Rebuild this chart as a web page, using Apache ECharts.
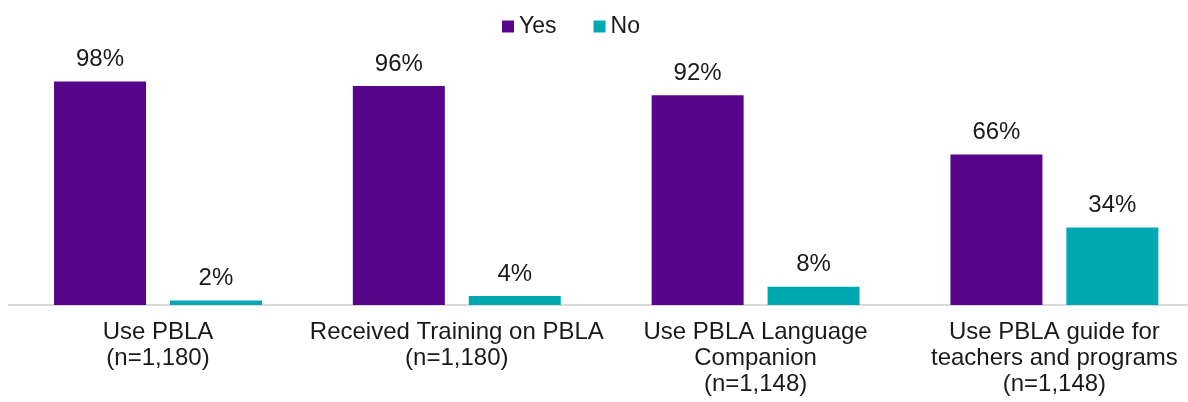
<!DOCTYPE html>
<html>
<head>
<meta charset="utf-8">
<script src="https://cdn.jsdelivr.net/npm/echarts@6/dist/echarts.min.js"></script>
<style>
html,body{margin:0;padding:0;background:#fff;overflow:hidden;}
#chart{width:1188px;height:402px;}
</style>
</head>
<body>
<div id="chart"></div>
<script>
const categories = [
  "Use PBLA\n(n=1,180)",
  "Received Training on PBLA\n(n=1,180)",
  "Use PBLA Language\nCompanion\n(n=1,148)",
  "Use PBLA guide for\nteachers and programs\n(n=1,148)"
];
const seriesNames = ["Yes", "No"];
const yesValues = [98, 96, 92, 66];
const noValues = [2, 4, 8, 34];

const FONT = "'Liberation Sans', Arial, sans-serif";
const chart = echarts.init(document.getElementById('chart'), null, {renderer: 'canvas'});
const labelStyle = {
  show: true,
  position: 'top',
  distance: 10,
  formatter: '{c}%',
  fontFamily: FONT,
  fontSize: 24,
  color: '#1a1a1a'
};
chart.setOption({
  animation: false,
  backgroundColor: '#ffffff',
  legend: {
    left: 497,
    top: 10,
    itemWidth: 12,
    itemHeight: 12,
    itemGap: 37,
    icon: 'rect',
    textStyle: {fontFamily: FONT, fontSize: 23, color: '#1a1a1a'},
    data: seriesNames
  },
  grid: {left: 8.6, width: 1195.2, top: 77, bottom: 97, containLabel: false, outerBoundsMode: 'none'},
  xAxis: {
    type: 'category',
    data: categories,
    axisLine: {show: true, lineStyle: {color: '#d9d9d9', width: 2}},
    axisTick: {show: false},
    axisLabel: {
      interval: 0,
      margin: 14,
      fontFamily: FONT,
      fontSize: 24,
      lineHeight: 26,
      color: '#1a1a1a'
    }
  },
  yAxis: {
    type: 'value',
    min: 0,
    max: 100,
    show: false,
    splitLine: {show: false}
  },
  series: [
    {
      name: seriesNames[0],
      type: 'bar',
      data: yesValues,
      barWidth: 92,
      barGap: '26%',
      itemStyle: {color: '#57068c'},
      label: labelStyle
    },
    {
      name: seriesNames[1],
      type: 'bar',
      data: noValues,
      barWidth: 92,
      barGap: '26%',
      itemStyle: {color: '#00a8b4'},
      label: labelStyle
    }
  ]
});
</script>
</body>
</html>
